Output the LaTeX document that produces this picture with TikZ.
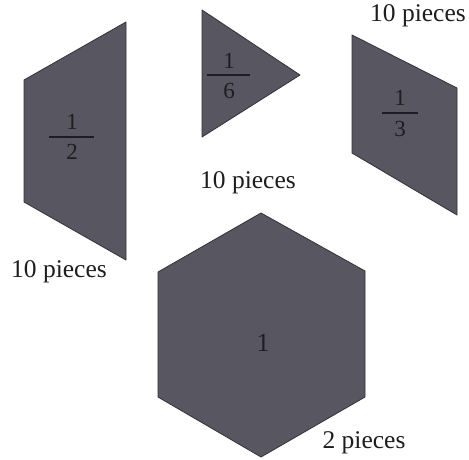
\documentclass[tikz,border=0pt]{standalone}
\usepackage{fontspec}
\setmainfont{Liberation Serif}
\definecolor{tile}{RGB}{88,86,96}
\definecolor{tileedge}{RGB}{50,50,55}
\definecolor{ink}{RGB}{30,30,30}
\definecolor{fracink}{RGB}{30,30,33}
\begin{document}
\begin{tikzpicture}[x=1pt,y=-1pt,
  tilestyle/.style={fill=tile,draw=tileedge,line width=0.8pt,line join=round},
  label/.style={inner sep=0pt,text=ink,font=\fontsize{25.5}{27}\selectfont},
  fracnum/.style={inner sep=0pt,text=fracink,font=\fontsize{23}{25}\selectfont},
  fracbar/.style={draw=fracink,line width=1.4pt}]
\useasboundingbox[fill=white] (0,0) rectangle (469,459);
% half hexagon (trapezoid)
\path[tilestyle] (126,22) -- (24,80) -- (24,202) -- (126,260) -- cycle;
% triangle
\path[tilestyle] (202,10) -- (300,75) -- (202,137) -- cycle;
% rhombus
\path[tilestyle] (352,35) -- (457,88) -- (457,215) -- (352,153) -- cycle;
% hexagon
\path[tilestyle] (261,213) -- (365,271) -- (365,397) -- (261,457) -- (158,397) -- (158,272) -- cycle;
% fractions
\node[fracnum] (hn) at (72,122) {1};
\coordinate (hb1) at (49,137); \coordinate (hb2) at (94,137);
\draw[fracbar] (hb1) -- (hb2);
\node[fracnum] (hd) at (72,152) {2};
\node[fracnum] (tn) at (229,61) {1};
\coordinate (tb1) at (207,75); \coordinate (tb2) at (250,75);
\draw[fracbar] (tb1) -- (tb2);
\node[fracnum] (td) at (229,91) {6};
\node[fracnum] (rn) at (400,98) {1};
\coordinate (rb1) at (382,113); \coordinate (rb2) at (418,113);
\draw[fracbar] (rb1) -- (rb2);
\node[fracnum] (rd) at (400,129) {3};
\node[fracnum,font=\fontsize{26}{28}\selectfont] (one) at (263,343) {1};
% labels
\node[label] (l1) at (59,272) {10 pieces};
\node[label] (l2) at (248,183) {10 pieces};
\node[label] (l3) at (418,16) {10 pieces};
\node[label] (l4) at (364,443) {2 pieces};
\end{tikzpicture}
\end{document}
